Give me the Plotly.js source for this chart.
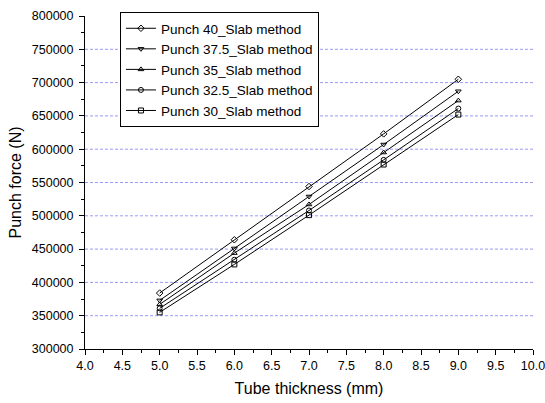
<!DOCTYPE html>
<html>
<head>
<meta charset="utf-8">
<script src="https://cdn.plot.ly/plotly-3.0.1.min.js"></script>
<style>
  html, body { margin: 0; padding: 0; background: #fff; }
  #chart { width: 545px; height: 403px; }
</style>
</head>
<body>
<div id="chart"></div>
<script>
// Tube thickness (mm)
const thickness = [5, 6, 7, 8, 9];

// Punch force (N) from the slab method, one series per punch size
const punch40   = [384000, 464000, 544000, 623000, 705000];
const punch37_5 = [373000, 451000, 529000, 607000, 687000];
const punch35   = [367000, 444000, 517000, 595000, 673000];
const punch32_5 = [361000, 434000, 508000, 584000, 661000];
const punch30   = [355000, 427000, 501000, 577000, 652000];

const seriesNames = [
  'Punch 40_Slab method',
  'Punch 37.5_Slab method',
  'Punch 35_Slab method',
  'Punch 32.5_Slab method',
  'Punch 30_Slab method'
];
const seriesValues = [punch40, punch37_5, punch35, punch32_5, punch30];
const seriesSymbols = ['diamond-open', 'triangle-down-open', 'triangle-up-open', 'circle-open', 'square-open'];

// Dashed horizontal guide lines (inner major ticks only)
const gridValues = [350000, 400000, 450000, 500000, 550000, 600000, 650000, 700000, 750000];

const traces = seriesValues.map((vals, i) => ({
  x: thickness,
  y: vals,
  name: seriesNames[i],
  type: 'scatter',
  mode: 'lines+markers',
  line: { color: '#000', width: 1 },
  marker: { symbol: seriesSymbols[i], size: 5, color: '#000', line: { width: 1, color: '#000' } }
}));

const font = { family: 'Liberation Sans, Arial, sans-serif', color: '#000' };

const gridShapes = gridValues.map(v => ({
  type: 'line', layer: 'below',
  xref: 'paper', x0: 0, x1: 1,
  yref: 'y', y0: v, y1: v,
  line: { color: '#9a9af8', width: 1, dash: '3px,2px' }
}));

const layout = {
  width: 545,
  height: 403,
  margin: { l: 85, r: 12, t: 16, b: 54 },
  paper_bgcolor: '#fff',
  plot_bgcolor: '#fff',
  font: Object.assign({ size: 12 }, font),
  showlegend: true,
  legend: {
    x: 0.078, y: 1.012, xanchor: 'left', yanchor: 'top',
    bgcolor: '#fff', bordercolor: '#000', borderwidth: 1,
    font: Object.assign({ size: 13.5 }, font),
    tracegroupgap: 0,
    itemwidth: 30
  },
  shapes: gridShapes,
  xaxis: {
    range: [4, 10],
    tick0: 4, dtick: 0.5,
    tickformat: '.1f',
    ticks: 'outside', ticklen: 5, tickwidth: 1, tickcolor: '#000',
    minor: { dtick: 0.25, ticks: 'outside', ticklen: 3, tickcolor: '#000', showgrid: false },
    showline: true, linecolor: '#000', linewidth: 1,
    showgrid: false, zeroline: false,
    ticklabeloverflow: 'allow',
    tickfont: Object.assign({ size: 12.5 }, font),
    title: { text: 'Tube thickness (mm)', font: Object.assign({ size: 16 }, font), standoff: 10 }
  },
  yaxis: {
    range: [300000, 800000],
    tick0: 300000, dtick: 50000,
    tickformat: 'd',
    ticks: 'outside', ticklen: 5, tickwidth: 1, tickcolor: '#000',
    minor: { dtick: 25000, ticks: 'outside', ticklen: 3, tickcolor: '#000', showgrid: false },
    showline: true, linecolor: '#000', linewidth: 1,
    showgrid: false, zeroline: false,
    ticklabelstandoff: 3,
    tickfont: Object.assign({ size: 12.5 }, font),
    title: { text: 'Punch force (N)', font: Object.assign({ size: 16 }, font), standoff: 6 }
  }
};

Plotly.newPlot('chart', traces, layout, { displayModeBar: false, staticPlot: true });
</script>
</body>
</html>
